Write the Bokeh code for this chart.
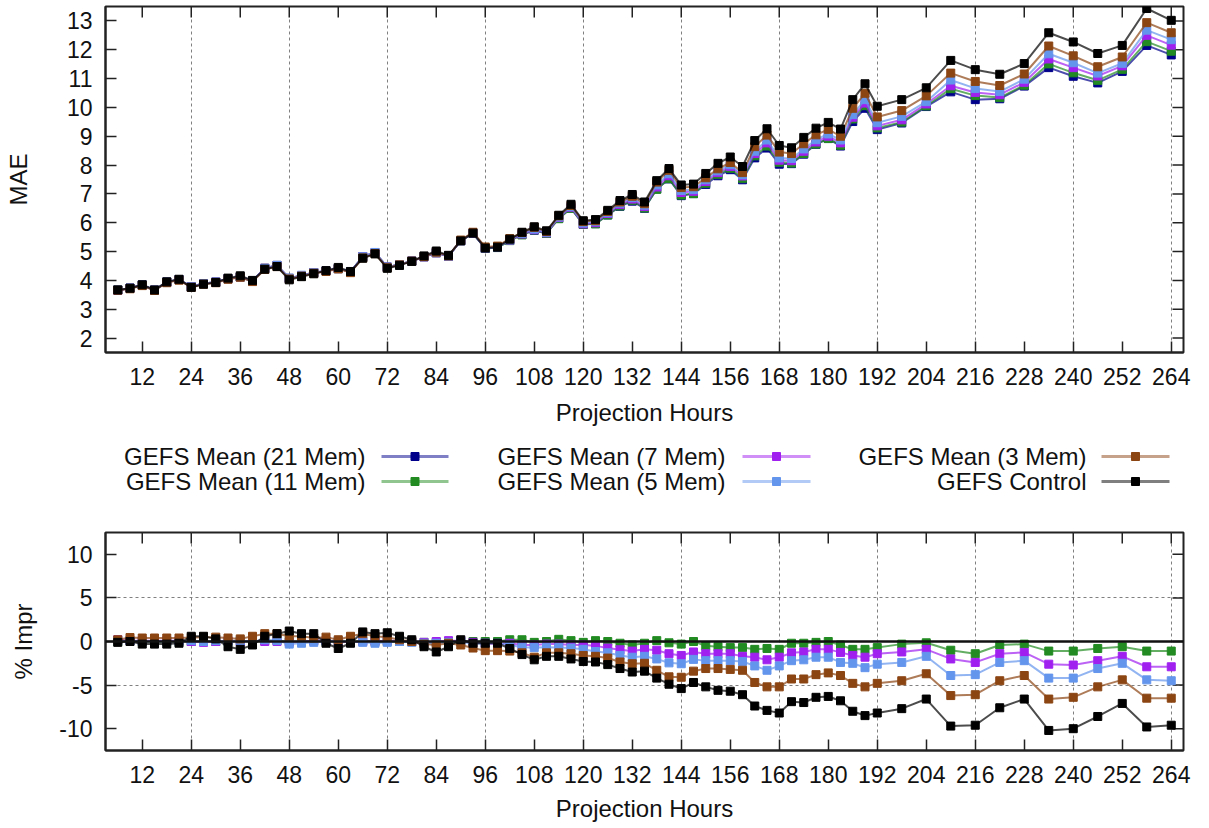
import math
from bokeh.plotting import figure
from bokeh.layouts import column
from bokeh.models import Range1d, FixedTicker, Span
from bokeh.embed import file_html
from bokeh.resources import INLINE
from bokeh.core.properties import value

# ---------------- data ----------------
hours = [6, 9, 12, 15, 18, 21, 24, 27, 30, 33, 36, 39, 42, 45, 48, 51, 54, 57, 60, 63,
         66, 69, 72, 75, 78, 81, 84, 87, 90, 93, 96, 99, 102, 105, 108, 111, 114, 117, 120, 123,
         126, 129, 132, 135, 138, 141, 144, 147, 150, 153, 156, 159, 162, 165, 168, 171, 174, 177, 180, 183,
         186, 189, 192, 198, 204, 210, 216, 222, 228, 234, 240, 246, 252, 258, 264]

mae_21 = [3.67, 3.73, 3.84, 3.66, 3.94, 4.03, 3.78, 3.89, 3.94, 4.06,
          4.12, 3.98, 4.42, 4.52, 4.07, 4.17, 4.27, 4.33, 4.41, 4.30,
          4.82, 4.96, 4.46, 4.55, 4.67, 4.82, 4.96, 4.84, 5.38, 5.63,
          5.11, 5.14, 5.39, 5.59, 5.74, 5.63, 6.16, 6.51, 5.94, 5.97,
          6.27, 6.57, 6.75, 6.50, 7.17, 7.52, 6.94, 7.01, 7.33, 7.63,
          7.84, 7.49, 8.25, 8.59, 8.03, 8.05, 8.38, 8.72, 8.92, 8.66,
          9.51, 9.97, 9.23,
          9.46, 10.03, 10.54, 10.27, 10.30, 10.74, 11.38, 11.08, 10.85, 11.25, 12.15, 11.82]
mae_11 = [3.67, 3.73, 3.84, 3.66, 3.94, 4.03, 3.78, 3.89, 3.94, 4.06,
          4.12, 3.98, 4.42, 4.52, 4.07, 4.17, 4.27, 4.33, 4.41, 4.30,
          4.82, 4.96, 4.46, 4.55, 4.67, 4.82, 4.96, 4.84, 5.38, 5.63,
          5.11, 5.14, 5.38, 5.58, 5.75, 5.63, 6.14, 6.50, 5.95, 5.96,
          6.27, 6.58, 6.78, 6.51, 7.16, 7.53, 6.96, 7.01, 7.37, 7.68,
          7.89, 7.54, 8.32, 8.66, 8.10, 8.07, 8.40, 8.73, 8.92, 8.69,
          9.60, 10.06, 9.29,
          9.49, 10.05, 10.65, 10.41, 10.34, 10.77, 11.51, 11.20, 10.94, 11.32, 12.28, 11.95]
mae_7 = [3.66, 3.73, 3.84, 3.66, 3.94, 4.03, 3.78, 3.89, 3.94, 4.06,
         4.12, 3.98, 4.42, 4.52, 4.07, 4.17, 4.27, 4.33, 4.41, 4.30,
         4.82, 4.96, 4.46, 4.55, 4.67, 4.82, 4.96, 4.84, 5.38, 5.64,
         5.12, 5.16, 5.40, 5.61, 5.76, 5.65, 6.18, 6.54, 5.96, 6.00,
         6.32, 6.63, 6.82, 6.56, 7.24, 7.63, 7.05, 7.09, 7.43, 7.74,
         7.95, 7.62, 8.40, 8.77, 8.17, 8.15, 8.48, 8.80, 9.00, 8.77,
         9.66, 10.15, 9.36,
         9.57, 10.12, 10.75, 10.52, 10.44, 10.87, 11.68, 11.38, 11.09, 11.44, 12.50, 12.16]
mae_5 = [3.67, 3.73, 3.84, 3.66, 3.94, 4.03, 3.78, 3.89, 3.94, 4.06,
         4.12, 3.98, 4.41, 4.52, 4.08, 4.18, 4.27, 4.33, 4.41, 4.30,
         4.82, 4.97, 4.46, 4.55, 4.67, 4.83, 4.97, 4.84, 5.38, 5.65,
         5.12, 5.15, 5.41, 5.63, 5.78, 5.67, 6.20, 6.56, 5.99, 6.04,
         6.35, 6.68, 6.87, 6.61, 7.31, 7.70, 7.12, 7.15, 7.49, 7.80,
         8.01, 7.66, 8.48, 8.87, 8.25, 8.23, 8.56, 8.88, 9.08, 8.87,
         9.75, 10.27, 9.47,
         9.69, 10.20, 10.95, 10.66, 10.55, 10.98, 11.86, 11.55, 11.19, 11.53, 12.68, 12.35]
mae_3 = [3.66, 3.71, 3.82, 3.65, 3.92, 4.01, 3.76, 3.87, 3.92, 4.04,
         4.11, 3.96, 4.38, 4.48, 4.05, 4.15, 4.25, 4.31, 4.40, 4.27,
         4.78, 4.93, 4.44, 4.54, 4.67, 4.83, 4.98, 4.85, 5.40, 5.67,
         5.16, 5.19, 5.45, 5.66, 5.84, 5.70, 6.24, 6.60, 6.04, 6.07,
         6.39, 6.72, 6.92, 6.66, 7.41, 7.82, 7.22, 7.25, 7.56, 7.87,
         8.09, 7.74, 8.64, 9.04, 8.45, 8.40, 8.74, 9.05, 9.24, 9.00,
         9.97, 10.49, 9.67,
         9.89, 10.40, 11.19, 10.90, 10.76, 11.16, 12.13, 11.79, 11.41, 11.75, 12.94, 12.59]
mae_ctrl = [3.67, 3.73, 3.85, 3.67, 3.95, 4.04, 3.76, 3.87, 3.93, 4.08,
            4.16, 4.00, 4.39, 4.48, 4.02, 4.13, 4.23, 4.34, 4.45, 4.31,
            4.77, 4.92, 4.42, 4.52, 4.66, 4.85, 5.02, 4.87, 5.37, 5.64,
            5.12, 5.15, 5.43, 5.67, 5.86, 5.72, 6.26, 6.64, 6.07, 6.11,
            6.43, 6.77, 6.98, 6.72, 7.46, 7.88, 7.31, 7.34, 7.71, 8.06,
            8.28, 7.95, 8.85, 9.26, 8.68, 8.60, 8.96, 9.28, 9.48, 9.25,
            10.27, 10.82, 10.04,
            10.27, 10.68, 11.63, 11.31, 11.15, 11.52, 12.59, 12.27, 11.87, 12.15, 13.43, 13.02]

impr_11 = [0.0, 0.1, 0.0, 0.0, 0.0, 0.0, 0.0, 0.1, 0.0, 0.0,
           0.1, 0.0, 0.1, 0.1, 0.0, 0.0, 0.1, 0.0, 0.0, 0.0,
           0.1, 0.0, 0.0, 0.0, 0.0, -0.1, -0.1, 0.0, 0.0, 0.0,
           0.0, 0.0, 0.2, 0.2, -0.1, 0.0, 0.25, 0.1, -0.1, 0.1,
           0.0, -0.2, -0.4, -0.2, 0.1, -0.15, -0.3, 0.0, -0.5, -0.6,
           -0.7, -0.7, -0.9, -0.8, -0.9, -0.2, -0.2, -0.1, 0.0, -0.4,
           -0.9, -0.9, -0.7,
           -0.3, -0.15, -1.0, -1.4, -0.4, -0.3, -1.1, -1.1, -0.8, -0.6, -1.1, -1.1]
impr_7 = [0.2, 0.1, 0.1, 0.1, 0.1, 0.1, 0.0, -0.1, 0.0, 0.1,
          0.0, 0.1, 0.0, 0.0, -0.1, 0.0, 0.1, 0.1, 0.0, -0.1,
          0.0, 0.0, 0.1, 0.1, 0.0, -0.1, 0.0, 0.1, 0.1, -0.1,
          -0.2, -0.3, -0.2, -0.4, -0.4, -0.3, -0.3, -0.4, -0.4, -0.5,
          -0.75, -0.95, -1.1, -0.9, -1.0, -1.4, -1.6, -1.2, -1.4, -1.4,
          -1.4, -1.7, -1.8, -2.1, -1.8, -1.3, -1.2, -0.9, -0.9, -1.25,
          -1.6, -1.8, -1.4,
          -1.2, -0.9, -2.0, -2.4, -1.4, -1.25, -2.6, -2.7, -2.2, -1.7, -2.9, -2.9]
impr_5 = [0.1, 0.1, 0.0, 0.0, 0.0, 0.0, 0.1, 0.0, 0.1, 0.0,
          0.1, 0.0, 0.2, 0.1, -0.3, -0.2, -0.1, 0.0, 0.1, 0.0,
          -0.1, -0.2, -0.1, 0.0, -0.1, -0.2, -0.2, -0.1, 0.0, -0.3,
          -0.2, -0.2, -0.4, -0.65, -0.7, -0.65, -0.7, -0.75, -0.9, -1.15,
          -1.3, -1.6, -1.8, -1.7, -2.0, -2.45, -2.55, -2.05, -2.2, -2.2,
          -2.2, -2.3, -2.8, -3.3, -2.8, -2.2, -2.1, -1.8, -1.8, -2.4,
          -2.5, -3.0, -2.6,
          -2.4, -1.7, -3.9, -3.8, -2.4, -2.2, -4.2, -4.2, -3.1, -2.5, -4.4, -4.5]
impr_3 = [0.2, 0.45, 0.4, 0.4, 0.4, 0.4, 0.45, 0.5, 0.5, 0.4,
          0.3, 0.6, 0.9, 0.9, 0.6, 0.6, 0.4, 0.5, 0.2, 0.6,
          0.9, 0.6, 0.5, 0.2, 0.0, -0.3, -0.4, -0.2, -0.4, -0.75,
          -1.05, -1.05, -1.1, -1.3, -1.8, -1.3, -1.3, -1.4, -1.6, -1.7,
          -1.9, -2.35, -2.55, -2.5, -3.3, -4.05, -4.1, -3.4, -3.1, -3.1,
          -3.2, -3.3, -4.7, -5.2, -5.2, -4.3, -4.3, -3.8, -3.6, -3.9,
          -4.8, -5.2, -4.8,
          -4.5, -3.7, -6.2, -6.1, -4.5, -3.9, -6.6, -6.4, -5.2, -4.4, -6.5, -6.5]
impr_ctrl = [-0.1, 0.0, -0.3, -0.3, -0.3, -0.2, 0.6, 0.6, 0.3, -0.6,
             -0.9, -0.4, 0.6, 0.9, 1.2, 0.9, 0.9, -0.2, -0.8, -0.2,
             1.1, 0.9, 1.0, 0.6, 0.2, -0.6, -1.2, -0.6, 0.2, -0.2,
             -0.2, -0.2, -0.8, -1.5, -2.1, -1.7, -1.7, -2.0, -2.3, -2.35,
             -2.65, -3.1, -3.5, -3.4, -4.2, -4.9, -5.4, -4.7, -5.2, -5.6,
             -5.7, -6.1, -7.4, -7.9, -8.2, -6.9, -7.0, -6.4, -6.3, -6.8,
             -8.0, -8.5, -8.2,
             -7.7, -6.6, -9.7, -9.6, -7.6, -6.6, -10.2, -10.0, -8.6, -7.1, -9.8, -9.6]

series_labels = ["GEFS Mean (21 Mem)", "GEFS Mean (11 Mem)", "GEFS Mean (7 Mem)",
                 "GEFS Mean (5 Mem)", "GEFS Mean (3 Mem)", "GEFS Control"]
series_colors = ["#00008B", "#228B22", "#A020F0", "#6495ED", "#8B4513", "#000000"]

x_ticks = [12, 24, 36, 48, 60, 72, 84, 96, 108, 120, 132, 144, 156, 168, 180, 192,
           204, 216, 228, 240, 252, 264]
x_grid = [24, 48, 72, 96, 120, 144, 168, 192, 216, 240, 264]
mae_ticks = [2, 3, 4, 5, 6, 7, 8, 9, 10, 11, 12, 13]
impr_ticks = [-10, -5, 0, 5, 10]
impr_tick_labels = ["-10", "-5", "0", "5", "10"]
impr_grid = [-5, 5]

FONT = "Liberation Sans"
FS = "23px"
TITLE_FS = "24px"
LEG_FS = "24px"
FRAME = "#222222"
TXT = "#111111"
X_LO, X_HI = 3, 267
FIG_W = 1193
MB_LEFT = 105
MB_RIGHT = 10


def style_axis(ax, ticker):
    ax.ticker = FixedTicker(ticks=ticker)
    ax.axis_line_color = FRAME
    ax.axis_line_width = 2
    ax.major_tick_line_color = FRAME
    ax.major_tick_line_width = 1.5
    ax.major_tick_in = 11
    ax.major_tick_out = 0
    ax.minor_tick_line_color = None
    ax.major_label_text_font = FONT
    ax.major_label_text_color = TXT
    ax.major_label_text_font_size = FS
    ax.axis_label_text_font = FONT
    ax.axis_label_text_font_size = TITLE_FS
    ax.axis_label_text_font_style = "normal"
    ax.axis_label_text_color = TXT


def make_fig(height, y_lo, y_hi, yticks, mbt, mbb):
    p = figure(width=FIG_W, height=height, x_range=Range1d(X_LO, X_HI),
               y_range=Range1d(y_lo, y_hi),
               output_backend="svg", toolbar_location=None,
               min_border_left=MB_LEFT, min_border_right=MB_RIGHT,
               min_border_top=mbt, min_border_bottom=mbb)
    p.outline_line_color = FRAME
    p.outline_line_width = 2
    p.background_fill_color = "white"
    p.border_fill_color = "white"
    style_axis(p.xaxis[0], x_ticks)
    style_axis(p.yaxis[0], yticks)
    p.xaxis[0].axis_label = "Projection Hours"
    p.xgrid.ticker = FixedTicker(ticks=x_grid)
    p.xgrid.grid_line_color = "#808080"
    p.xgrid.grid_line_dash = "3 3"
    p.xgrid.grid_line_width = 1
    # mirrored tick marks on the right and top frame edges (clipped to the frame)
    p.scatter(x=[X_HI] * len(yticks), y=yticks, marker="dash", size=22,
              line_color=FRAME, line_width=1.5)
    p.scatter(x=x_ticks, y=[y_hi] * len(x_ticks), marker="dash", size=22,
              angle=math.pi / 2, line_color=FRAME, line_width=1.5)
    return p


# ---------------- top: MAE ----------------
top = make_fig(432, 1.5, 13.5, mae_ticks, 6, 80)
top.ygrid.visible = False
top.yaxis[0].axis_label = "MAE"
top.yaxis[0].major_label_standoff = 13
top.yaxis[0].axis_label_standoff = 32
top.xaxis[0].major_label_standoff = 15
top.xaxis[0].axis_label_standoff = 11

mae_series = [mae_21, mae_11, mae_7, mae_5, mae_3, mae_ctrl]
for ys, c in zip(mae_series, series_colors):
    top.line(hours, ys, line_color=c, line_width=2, line_alpha=0.7)
    top.scatter(hours, ys, marker="square", size=8, fill_color=c, line_color=c)

# ---------------- legend strip ----------------
leg = figure(width=FIG_W, height=74, x_range=Range1d(97, 1175), y_range=Range1d(74, 0),
             output_backend="svg", toolbar_location=None,
             min_border_left=MB_LEFT, min_border_right=MB_RIGHT,
             min_border_top=0, min_border_bottom=0,
             x_axis_type=None, y_axis_type=None)
leg.outline_line_color = None
leg.xgrid.visible = False
leg.ygrid.visible = False
leg_text_x = [357, 357, 717, 717, 1078, 1078]
leg_y = [24, 49, 24, 49, 24, 49]
leg_x0 = [373, 373, 734, 734, 1093, 1093]
leg_x1 = [440, 440, 802, 802, 1161, 1161]
leg.text(x=leg_text_x, y=leg_y, text=series_labels, text_align="right",
         text_baseline="middle", text_font=value(FONT), text_font_size=LEG_FS,
         text_color=TXT)
for i, c in enumerate(series_colors):
    leg.segment(x0=[leg_x0[i]], y0=[leg_y[i]], x1=[leg_x1[i]], y1=[leg_y[i]],
                line_color=c, line_width=3, line_alpha=0.5)
    leg.scatter(x=[(leg_x0[i] + leg_x1[i]) / 2], y=[leg_y[i]], marker="square", size=8,
                fill_color=c, line_color=c)

# ---------------- bottom: % improvement ----------------
bot = make_fig(318, -12.5, 12.5, impr_ticks, 26, 73)
bot.ygrid.ticker = FixedTicker(ticks=impr_grid)
bot.ygrid.grid_line_color = "#808080"
bot.ygrid.grid_line_dash = "3 3"
bot.yaxis[0].axis_label = "% Impr"
bot.yaxis[0].major_label_overrides = dict(zip(impr_ticks, impr_tick_labels))
bot.yaxis[0].major_label_standoff = 13
bot.yaxis[0].axis_label_standoff = 19
bot.xaxis[0].major_label_standoff = 15
bot.xaxis[0].axis_label_standoff = 9
bot.add_layout(Span(location=0, dimension="width", line_color=TXT, line_width=2.5))

impr_series = [impr_11, impr_7, impr_5, impr_3, impr_ctrl]
for ys, c in zip(impr_series, series_colors[1:]):
    bot.line(hours, ys, line_color=c, line_width=2, line_alpha=0.7)
    bot.scatter(hours, ys, marker="square", size=8, fill_color=c, line_color=c)

layout = column(top, leg, bot, spacing=0)
open("out.html", "w").write(file_html(layout, INLINE))
